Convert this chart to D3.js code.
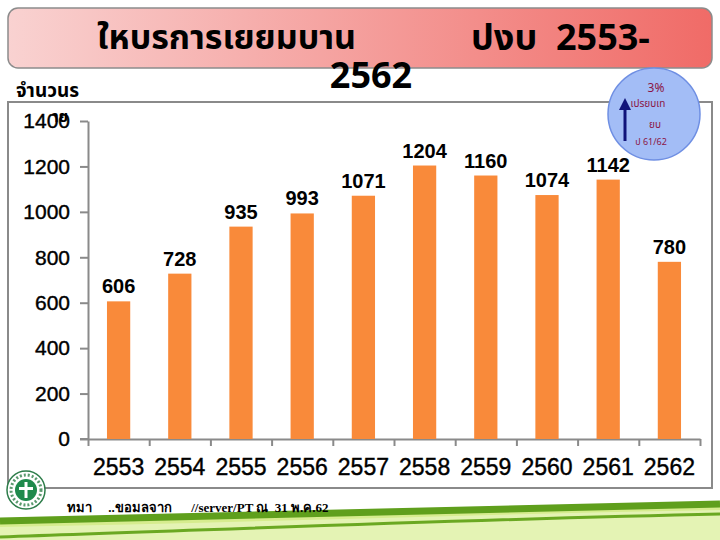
<!DOCTYPE html>
<html>
<head>
<meta charset="utf-8">
<script src="https://d3js.org/d3.v7.min.js"></script>
<style>
  body { margin: 0; background: #fff; }
  svg { display: block; }
</style>
</head>
<body>
<svg width="720" height="540"></svg>
<script>
const years = ['2553', '2554', '2555', '2556', '2557', '2558', '2559', '2560', '2561', '2562'];
const visits = [606, 728, 935, 993, 1071, 1204, 1160, 1074, 1142, 780];
const yTicks = [0, 200, 400, 600, 800, 1000, 1200, 1400];

const thai = "'Noto Sans Thai', 'Noto Sans Thai UI', Tahoma, 'DejaVu Sans', sans-serif";
const svg = d3.select('svg');

// gradient for the title banner
const defs = svg.append('defs');
const grad = defs.append('linearGradient').attr('id', 'banner');
grad.append('stop').attr('offset', '0%').attr('stop-color', '#f9d2d1');
grad.append('stop').attr('offset', '100%').attr('stop-color', '#f06b67');

// green swoosh at the bottom
svg.append('path')
    .attr('d', 'M0,521 C240,517 480,508 720,504 L720,540 L0,540 Z')
    .attr('fill', '#d6ec8e');
svg.append('path')
    .attr('d', 'M0,527 C240,523 480,514 720,510 L720,540 L0,540 Z')
    .attr('fill', '#e4f3b4');
svg.append('path')
    .attr('d', 'M0,521 C240,517 480,508 720,504')
    .attr('fill', 'none').attr('stroke', '#5f9f1c').attr('stroke-width', 7);
svg.append('path')
    .attr('d', 'M0,537 C240,529 480,519 720,514')
    .attr('fill', 'none').attr('stroke', '#6aa822').attr('stroke-width', 3);

// title banner
svg.append('rect')
    .attr('x', 8).attr('y', 8).attr('width', 704).attr('height', 60)
    .attr('rx', 10)
    .attr('fill', 'url(#banner)')
    .attr('stroke', '#8c8c8c').attr('stroke-width', 1.5);

svg.append('text')
    .attr('x', 97).attr('y', 49)
    .style('font', `bold 34px ${thai}`)
    .text('ใหบรการเยยมบาน');
svg.append('text')
    .attr('x', 471).attr('y', 50)
    .attr('xml:space', 'preserve')
    .style('font', `bold 36px ${thai}`)
    .text('ปงบ  2553-');
svg.append('text')
    .attr('x', 371).attr('y', 88)
    .attr('text-anchor', 'middle')
    .style('font', `bold 36px ${thai}`)
    .text('2562');

// chart frame
svg.append('rect')
    .attr('x', 8).attr('y', 102).attr('width', 704).attr('height', 386)
    .attr('fill', 'none').attr('stroke', '#8a8a8a').attr('stroke-width', 2);

svg.append('text')
    .attr('x', 16).attr('y', 97)
    .style('font', `bold 19px ${thai}`)
    .text('จำนวนร');
svg.append('text')
    .attr('x', 68).attr('y', 122)
    .attr('text-anchor', 'end')
    .style('font', `bold 15px ${thai}`)
    .text('าย');

const x = d3.scaleBand()
    .domain(years)
    .range([88, 700])
    .paddingInner(0.62)
    .paddingOuter(0.31);

const edges = d3.scaleLinear()
    .domain([0, years.length])
    .range([88, 700]);

const y = d3.scaleLinear()
    .domain([0, 1400])
    .range([439, 121]);

// y axis
const yAxis = svg.append('g')
    .attr('transform', 'translate(88,0)')
    .call(d3.axisLeft(y).tickValues(yTicks).tickFormat(d3.format('d'))
        .tickSize(8).tickSizeOuter(0).tickPadding(10));
yAxis.select('.domain').attr('stroke', '#8a8a8a').attr('stroke-width', 2);
yAxis.selectAll('.tick line').attr('stroke', '#8a8a8a').attr('stroke-width', 2);
yAxis.selectAll('.tick text')
    .style('font', "21px 'Liberation Sans', Arial, sans-serif")
    .style('stroke', '#000').style('stroke-width', 0.4)
    .attr('fill', '#000');

// x axis edges with ticks
const xEdges = svg.append('g')
    .attr('transform', 'translate(0,439)')
    .call(d3.axisBottom(edges).tickValues(d3.range(years.length + 1)).tickFormat('').tickSize(7).tickSizeOuter(0));
xEdges.select('.domain').attr('stroke', '#8a8a8a').attr('stroke-width', 2);
xEdges.selectAll('.tick line').attr('stroke', '#8a8a8a').attr('stroke-width', 2);

const xAxis = svg.append('g')
    .attr('transform', 'translate(0,439)')
    .call(d3.axisBottom(x).tickSize(0).tickPadding(20));
xAxis.select('.domain').remove();
xAxis.selectAll('.tick text')
    .style('font', "23px 'Liberation Sans', Arial, sans-serif")
    .style('stroke', '#000').style('stroke-width', 0.4)
    .attr('fill', '#000');

svg.append('line')
    .attr('x1', 80).attr('x2', 88).attr('y1', 439).attr('y2', 439)
    .attr('stroke', '#8a8a8a').attr('stroke-width', 2);

// bars
const bars = svg.append('g').selectAll('g')
    .data(years.map((yr, i) => ({ yr, v: visits[i] })))
    .enter().append('g');

bars.append('rect')
    .attr('x', d => x(d.yr))
    .attr('y', d => y(d.v))
    .attr('width', x.bandwidth())
    .attr('height', d => y(0) - y(d.v))
    .attr('fill', '#f98a3a');

bars.append('text')
    .attr('x', d => x(d.yr) + x.bandwidth() / 2)
    .attr('y', d => y(d.v) - 8)
    .attr('text-anchor', 'middle')
    .style('font', "bold 20px 'Liberation Sans Narrow', 'Arial Narrow', sans-serif")
    .text(d => d.v);

// comparison bubble
svg.append('circle')
    .attr('cx', 654).attr('cy', 114).attr('r', 46)
    .attr('fill', '#a3bdf6').attr('stroke', '#6f8fe3').attr('stroke-width', 1.5);
svg.append('line')
    .attr('x1', 625).attr('x2', 625).attr('y1', 108).attr('y2', 141)
    .attr('stroke', '#10137a').attr('stroke-width', 3);
svg.append('path')
    .attr('d', 'M619,110 L625,98 L631,110 Z')
    .attr('fill', '#10137a');
const bub = [['3%', 656, 92, 12], ['เปรยบเท', 648, 107, 10], ['ยบ', 655, 128, 10], ['ป   61/62', 651, 145, 9]];
svg.selectAll('.bub')
    .data(bub)
    .enter().append('text')
    .attr('x', d => d[1]).attr('y', d => d[2])
    .attr('text-anchor', 'middle')
    .attr('fill', '#8b1545')
    .style('font-family', thai)
    .style('font-size', d => d[3] + 'px')
    .text(d => d[0]);

// logo
const logo = svg.append('g').attr('transform', 'translate(26,490)');
logo.append('circle').attr('r', 19).attr('fill', '#fff').attr('stroke', '#2d7d4a').attr('stroke-width', 1.5);
logo.append('circle').attr('r', 15).attr('fill', 'none')
    .attr('stroke', '#5a9a6e').attr('stroke-width', 3).attr('stroke-dasharray', '2 2');
logo.append('circle').attr('r', 11).attr('fill', '#1f8a4c');
logo.append('path')
    .attr('d', 'M-1.5,-8 L1.5,-8 L1.5,8 L-1.5,8 Z M-7,-3 L7,-3 L7,0 L-7,0 Z')
    .attr('fill', '#fff');

// footer note
svg.append('text')
    .attr('x', 67).attr('y', 512)
    .style('font', "bold 13px 'Liberation Serif', serif")
    .attr('xml:space', 'preserve')
    .text('ทมา     ..ขอมลจาก      //server/PT ณ  31 พ.ค.62');
</script>
</body>
</html>
